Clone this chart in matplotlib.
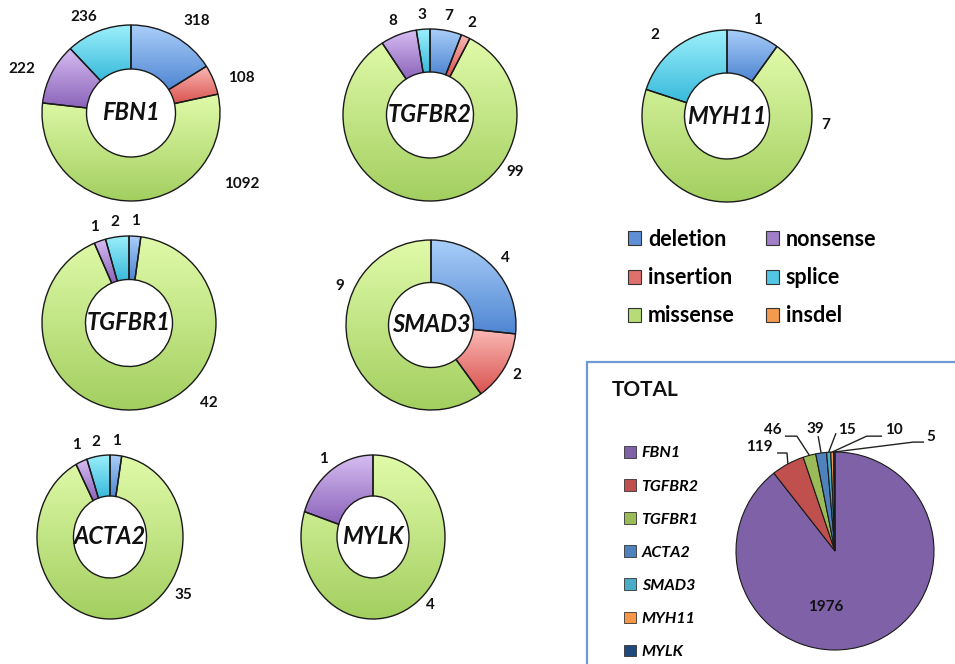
import numpy as np
import matplotlib.pyplot as plt
import matplotlib.colors as mcolors
from matplotlib.patches import Rectangle, Patch

plt.rcParams['font.family'] = ['Lato', 'DejaVu Sans']

W, H = 955, 664

# mutation types, in the order the rings are drawn (clockwise from top)
categories = ['deletion', 'insertion', 'missense', 'nonsense', 'splice', 'insdel']

genes = ['FBN1', 'TGFBR2', 'MYH11', 'TGFBR1', 'SMAD3', 'ACTA2', 'MYLK']
fbn1 = [318, 108, 1092, 222, 236, 0]
tgfbr2 = [7, 2, 99, 8, 3, 0]
myh11 = [1, 0, 7, 0, 2, 0]
tgfbr1 = [1, 0, 42, 1, 2, 0]
smad3 = [4, 2, 9, 0, 0, 0]
acta2 = [1, 0, 35, 1, 2, 0]
mylk = [0, 0, 4, 1, 0, 0]
gene_values = [fbn1, tgfbr2, myh11, tgfbr1, smad3, acta2, mylk]

total_genes = ['FBN1', 'TGFBR2', 'TGFBR1', 'ACTA2', 'SMAD3', 'MYH11', 'MYLK']
total_values = [1976, 119, 46, 39, 15, 10, 5]

# styles
shades = {
    'deletion': ('#A9CEF9', '#4F86D2'),
    'insertion': ('#FAB8B5', '#D9534F'),
    'missense': ('#E0FAA9', '#A3CF60'),
    'nonsense': ('#D6BDF2', '#8C64BA'),
    'splice': ('#9CEFFB', '#38BADB'),
    'insdel': ('#FBC48F', '#E8843A'),
}
swatch = {
    'deletion': '#5F90D6', 'insertion': '#E0706C', 'missense': '#B5DC78',
    'nonsense': '#A07FC8', 'splice': '#52C6E2', 'insdel': '#F39A4E',
}
total_colors = ['#7E61A6', '#C0504D', '#9BBB59', '#4F81BD', '#4BACC6',
                '#F79646', '#1F497D']

# donut positions in pixels: centre x, centre y, radius x, radius y
layout = {
    'FBN1': (131, 113, 89, 88),
    'TGFBR2': (430, 115, 87, 86),
    'MYH11': (727, 116, 85, 86),
    'TGFBR1': (129, 323, 87, 87),
    'SMAD3': (431, 325, 85, 85),
    'ACTA2': (110, 537, 73, 82),
    'MYLK': (373, 537, 72, 82),
}
# label placement (angle in degrees, distance in radii) where it differs
# from the wedge middle
label_pos = {
    ('FBN1', 'deletion'): (55, 1.28),
    ('FBN1', 'insertion'): (18, 1.3),
    ('FBN1', 'missense'): (-33, 1.48),
    ('FBN1', 'nonsense'): (158, 1.32),
    ('FBN1', 'splice'): (116, 1.22),
    ('TGFBR2', 'missense'): (-34, 1.18),
    ('MYH11', 'missense'): (-5, 1.17),
    ('MYH11', 'splice'): (132, 1.26),
    ('TGFBR1', 'missense'): (-45, 1.3),
    ('SMAD3', 'missense'): (157, 1.17),
    ('ACTA2', 'missense'): (-35, 1.23),
    ('ACTA2', 'nonsense'): (112, 1.21),
    ('MYLK', 'missense'): (-46, 1.15),
}


def place_axes(fig, cx, cy, rx, ry, pad=1.5):
    ax = fig.add_axes([(cx - pad * rx) / W, (H - cy - pad * ry) / H,
                       2 * pad * rx / W, 2 * pad * ry / H])
    return ax


def shade(ax, wedge, light, dark):
    ext = wedge.get_path().get_extents()
    t = np.linspace(0, 1, 64)[:, None, None]
    c0 = np.array(mcolors.to_rgb(light))
    c1 = np.array(mcolors.to_rgb(dark))
    img = c0 * (1 - t) + c1 * t
    im = ax.imshow(img, extent=[ext.x0, ext.x1, ext.y0, ext.y1],
                   origin='upper', aspect='auto', zorder=0.5,
                   interpolation='bilinear')
    im.set_clip_path(wedge)
    wedge.set_facecolor('none')


fig = plt.figure(figsize=(W / 100, H / 100), dpi=100)

for gene, vals in zip(genes, gene_values):
    cx, cy, rx, ry = layout[gene]
    ax = place_axes(fig, cx, cy, rx, ry)
    cats = [c for c, v in zip(categories, vals) if v > 0]
    vs = [v for v in vals if v > 0]
    wedges, _ = ax.pie(vs, startangle=90, counterclock=False, radius=1,
                       wedgeprops=dict(width=0.5, edgecolor='#1a1a1a',
                                       linewidth=1.0))
    for w, c, v in zip(wedges, cats, vs):
        shade(ax, w, *shades[c])
        ang, dist = label_pos.get((gene, c), ((w.theta1 + w.theta2) / 2, 1.17))
        a = np.deg2rad(ang)
        ax.text(dist * np.cos(a), dist * np.sin(a), str(v), ha='center',
                va='center', fontsize=11, fontweight='bold', color='#111')
    ax.text(0, 0, gene, ha='center', va='center', fontsize=17,
            fontweight='bold', fontstyle='italic', color='#111')
    ax.set_aspect('auto')
    ax.set_xlim(-1.5, 1.5)
    ax.set_ylim(-1.5, 1.5)
    ax.axis('off')

# mutation type legend
handles = [Patch(facecolor=swatch[c], edgecolor='#333', linewidth=0.8)
           for c in categories]
fig.legend(handles, categories, ncol=2, loc='upper left',
           bbox_to_anchor=(628 / W, 1 - 229 / H), frameon=False,
           prop=dict(size=15.5, weight='bold'), handlelength=0.62,
           handleheight=0.62, handletextpad=0.3, labelspacing=0.8,
           columnspacing=1.45, borderpad=0, borderaxespad=0)

# TOTAL box
fig.add_artist(Rectangle((587 / W, -0.05), 0.5, (H - 362) / H + 0.05,
                         transform=fig.transFigure, fill=False,
                         edgecolor='#6F9BD2', linewidth=1.6))
fig.text(612 / W, 1 - 390 / H, 'TOTAL', ha='left', va='center', fontsize=15,
         fontweight='bold', color='#111')

ax = place_axes(fig, 835, 551, 99, 99)
wedges, _ = ax.pie(total_values, colors=total_colors, startangle=90,
                   counterclock=False, radius=1,
                   wedgeprops=dict(edgecolor='#1a1a1a', linewidth=0.8))
ax.set_aspect('auto')
ax.set_xlim(-1.5, 1.5)
ax.set_ylim(-1.5, 1.5)
ax.axis('off')

# text spots for the total pie labels and the bends of their leader lines
# (data units, pie radius = 1)
total_text = [(-0.09, -0.57), (-0.76, 1.05), (-0.63, 1.22), (-0.2, 1.23),
              (0.12, 1.22), (0.6, 1.22), (0.97, 1.15)]
leader_bends = [[], [(-0.585, 0.99), (-0.485, 0.99)],
                [(-0.505, 1.16), (-0.385, 1.16)], [(-0.17, 1.16)],
                [(0.01, 1.19)], [(0.475, 1.16), (0.32, 1.16)],
                [(0.9, 1.1), (0.79, 1.1)]]
for w, v, (tx, ty), bends in zip(wedges, total_values, total_text,
                                 leader_bends):
    ax.text(tx, ty, str(v), ha='center', va='center', fontsize=11,
            fontweight='bold', color='#111')
    if bends:
        a = np.deg2rad((w.theta1 + w.theta2) / 2)
        xs = [b[0] for b in bends] + [np.cos(a)]
        ys = [b[1] for b in bends] + [np.sin(a)]
        ax.plot(xs, ys, color='#222', lw=1.0, solid_capstyle='butt')

handles = [Patch(facecolor=c, edgecolor='#333', linewidth=0.6)
           for c in total_colors]
fig.legend(handles, total_genes, loc='upper left',
           bbox_to_anchor=(624 / W, 1 - 446 / H), frameon=False,
           prop=dict(size=11.5, weight='bold', style='italic'),
           handlelength=0.75, handleheight=0.75, handletextpad=0.35,
           labelspacing=1.17, borderpad=0, borderaxespad=0)

fig.savefig('out.png', dpi=100, facecolor='white')
